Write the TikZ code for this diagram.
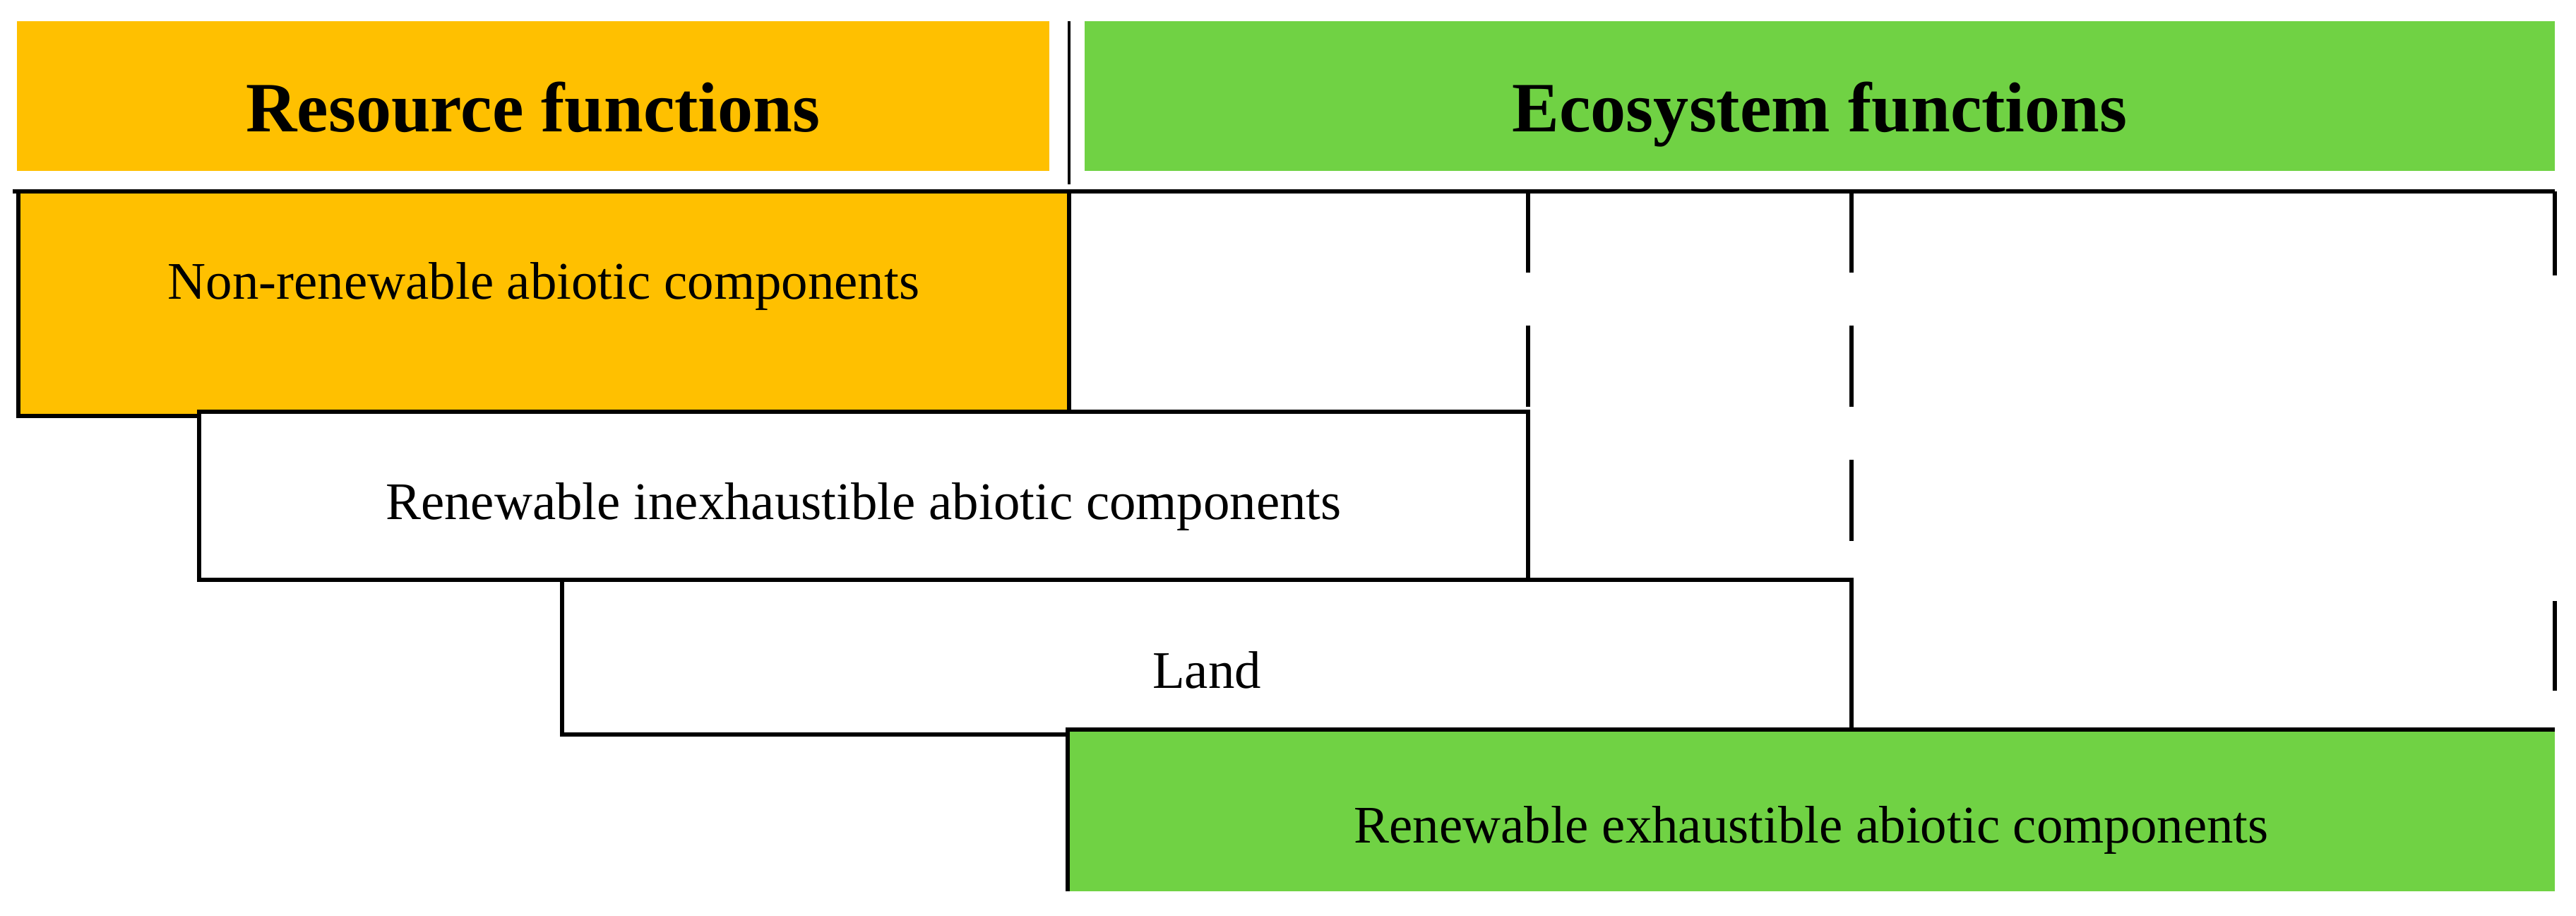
\documentclass[tikz,border=0pt]{standalone}
\usepackage{fontspec}
\setmainfont{Liberation Serif}
\usetikzlibrary{positioning, calc}
\definecolor{resourcecolor}{RGB}{255,192,0}
\definecolor{ecocolor}{RGB}{112,210,68}

\begin{document}
\begin{tikzpicture}[
    % Styles
    header box/.style={minimum height=2.12cm, inner sep=0, outer sep=0, anchor=north west},
    header label/.style={font=\fontsize{28.5}{34}\selectfont\bfseries, anchor=base},
    part box/.style={draw, line width=1.7pt, minimum height=2.3cm, inner sep=0, outer sep=0, anchor=north west},
    part label/.style={font=\fontsize{21.3}{26}\selectfont, anchor=base},
    frame line/.style={line width=1.7pt},
    frame dash/.style={line width=1.7pt, dash pattern=on 1.15cm off 0.75cm},
    divider/.style={line width=1.1pt},
]
    \useasboundingbox (0,0) rectangle (36.48,-12.97);

    % === Headers ===
    \node[header box, fill=resourcecolor, minimum width=14.62cm] (resource) at (0.24,-0.30) {};
    \node[header box, fill=ecocolor, minimum width=20.82cm, right=5mm of resource.north east, anchor=north west] (ecosystem) {};
    \node[header label] at ([yshift=-5.1mm]resource.center) {Resource functions};
    \node[header label] at ([yshift=-5.1mm]ecosystem.center) {Ecosystem functions};

    % Thin divider between the two headers
    \draw[divider] ([xshift=0.3mm]$(resource.north east)!0.5!(ecosystem.north west)$) -- ++(0,-2.31);

    % === Component bands, each shifted from the one above ===
    \node[part box, fill=resourcecolor, minimum width=14.88cm, minimum height=3.18cm] (nonren) at (0.26,-2.71) {};
    \node[part box, fill=white, minimum width=18.82cm, minimum height=2.38cm] (inexh) at ([xshift=25.6mm, yshift=0.6mm]nonren.south west) {};
    \node[part box, fill=white, minimum width=18.26cm, minimum height=2.19cm] (land) at ([xshift=51.4mm]inexh.south west) {};
    \node[part box, draw=none, fill=ecocolor, minimum width=21.06cm, minimum height=2.29cm] (exh) at ([xshift=71.6mm, yshift=0.7mm]land.south west) {};
    \draw[frame line] (exh.south west) -- (exh.north west) -- (exh.north east);

    \node[part label] at ([yshift=0.6mm]nonren.center) {Non-renewable abiotic components};
    \node[part label] at ([yshift=-3.4mm]inexh.center) {Renewable inexhaustible abiotic components};
    \node[part label] at ([yshift=-4.35mm]land.center) {Land};
    \node[part label] at ([yshift=-4.55mm]exh.center) {Renewable exhaustible abiotic components};

    % Top line of the frame
    \draw[frame line] ([xshift=-0.8mm]nonren.north west) -- (nonren.north west -| exh.east);

    % Dashed dividers down to the band tops
    \draw[frame dash] (nonren.north -| inexh.east) -- (inexh.north east);
    \draw[frame dash] (nonren.north -| land.east) -- (land.north east);

    % Right border (only two pieces show)
    \draw[frame line] (nonren.north -| exh.east) -- ++(0,-1.19);
    \draw[frame line] ([yshift=-3mm]land.north -| exh.east) -- ++(0,-1.27);
\end{tikzpicture}
\end{document}
